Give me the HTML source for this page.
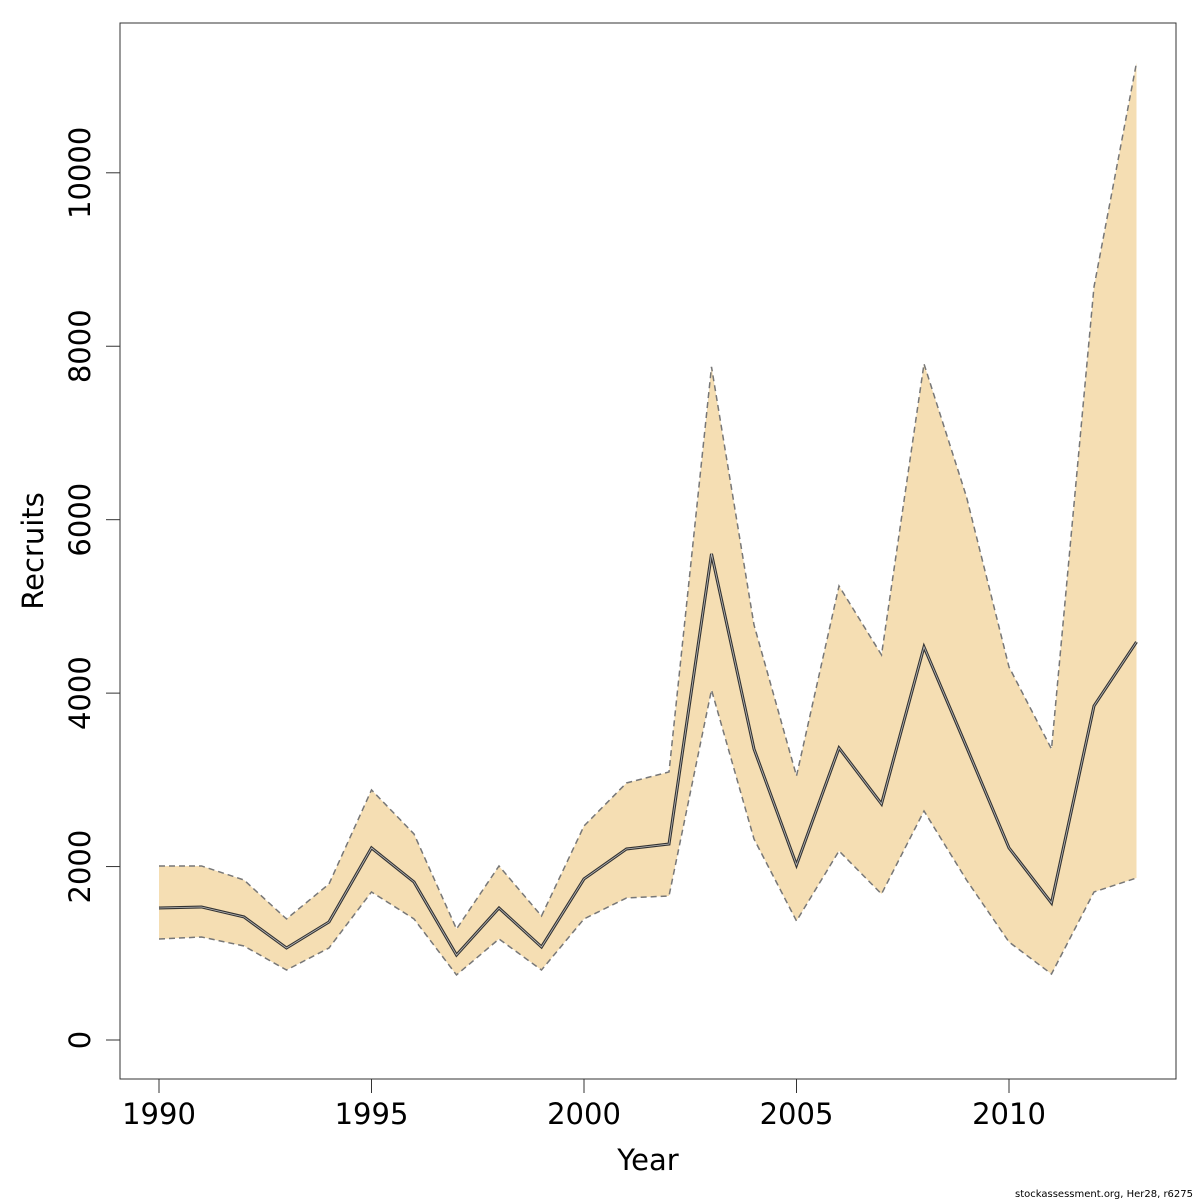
<!DOCTYPE html>
<html><head><meta charset="utf-8"><style>
html,body{margin:0;padding:0;background:#fff;}
svg{display:block;font-family:"DejaVu Sans","Liberation Sans",sans-serif;}
</style></head><body>
<svg id="chart" width="1200" height="1200" viewBox="0 0 1200 1200">
<rect x="120" y="23" width="1056" height="1056" fill="none" stroke="#333" stroke-width="1"/>
<g id="band"></g>
<g id="lines"></g>
<g id="xaxis"></g>
<g id="yaxis"></g>
<text x="648" y="1170" font-size="29" text-anchor="middle">Year</text>
<text x="0" y="0" font-size="29" text-anchor="middle" transform="translate(43,551) rotate(-90)">Recruits</text>
<text x="1193" y="1197" font-size="10" text-anchor="end">stockassessment.org, Her28, r6275</text>
</svg>
<script>
const years=[1990,1991,1992,1993,1994,1995,1996,1997,1998,1999,2000,2001,2002,2003,2004,2005,2006,2007,2008,2009,2010,2011,2012,2013];
const recruits=[1522,1534,1419,1061,1361,2215,1822,980,1522,1073,1857,2203,2260,5606,3356,2018,3368,2722,4533,3380,2215,1580,3852,4590];
const upper=[2007,2007,1845,1396,1799,2884,2376,1280,2007,1430,2468,2964,3091,7762,4787,3045,5236,4441,7797,6263,4302,3356,8685,11269];
const lower=[1165,1188,1084,807,1061,1707,1396,750,1165,807,1396,1638,1661,4037,2318,1373,2180,1684,2641,1845,1130,761,1707,1868];
const xTicks=[1990,1995,2000,2005,2010];
const yTicks=[0,2000,4000,6000,8000,10000];
const NS="http://www.w3.org/2000/svg";
function X(v){return 159+(v-1990)*42.5;}
function Y(v){return 1040-v*0.08672;}
function mk(tag,attrs,parent){const e=document.createElementNS(NS,tag);for(const k in attrs)e.setAttribute(k,attrs[k]);parent.appendChild(e);return e;}
const band=document.getElementById('band'),lines=document.getElementById('lines');
let pts=years.map((y,i)=>X(y)+','+Y(upper[i]));
pts=pts.concat(years.map((y,i)=>X(y)+','+Y(lower[i])).reverse());
const poly=mk('polygon',{points:pts.join(' '),fill:'#f5deb3',stroke:'none'},band);


function line(arr,name,dash,w,col){const p=mk('polyline',{points:years.map((y,i)=>X(y)+','+Y(arr[i])).join(' '),fill:'none',stroke:col,'stroke-width':w},lines);if(dash)p.setAttribute('stroke-dasharray',dash);

}
line(upper,'upper-bound-line','6,4',1.5,'#777');
line(lower,'lower-bound-line','6,4',1.5,'#777');
line(recruits,'recruits-line-outline',null,3,'#333');
line(recruits,'recruits-line',null,0.8,'#bbb');
const xa=document.getElementById('xaxis'),ya=document.getElementById('yaxis');
mk('line',{x1:X(1990),x2:X(2010),y1:1079,y2:1079,stroke:'#333'},xa);
xTicks.forEach(t=>{mk('line',{x1:X(t),x2:X(t),y1:1079,y2:1093,stroke:'#333'},xa);
const tx=mk('text',{x:X(t),y:1124,'font-size':29,'text-anchor':'middle'},xa);tx.textContent=t;

});
mk('line',{x1:120,x2:120,y1:Y(0),y2:Y(10000),stroke:'#333'},ya);
yTicks.forEach(t=>{mk('line',{x1:106,x2:120,y1:Y(t),y2:Y(t),stroke:'#333'},ya);
const tx=mk('text',{x:0,y:0,'font-size':29,'text-anchor':'middle',transform:'translate(90,'+Y(t)+') rotate(-90)'},ya);tx.textContent=t;

});
</script>
</body></html>
